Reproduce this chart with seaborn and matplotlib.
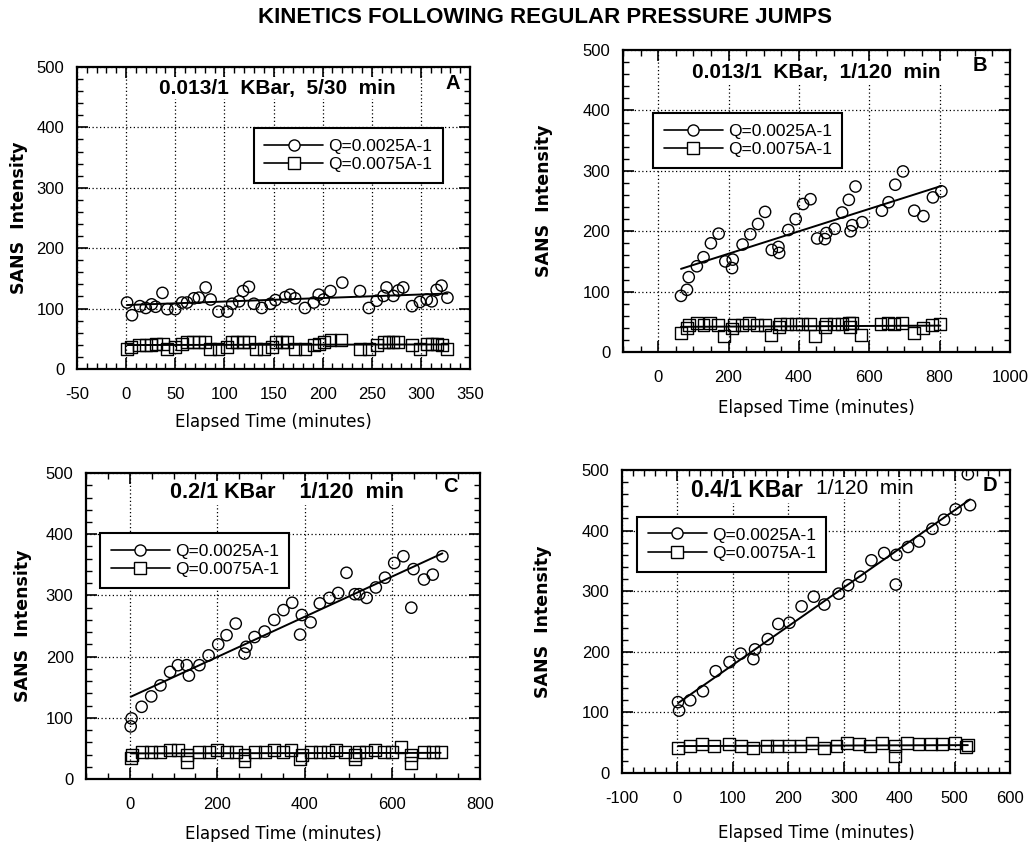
import numpy as np
import pandas as pd
import matplotlib
matplotlib.use("Agg")
import matplotlib.pyplot as plt
from matplotlib.lines import Line2D
from matplotlib.ticker import MultipleLocator
import seaborn as sns

# ---------------- data ----------------
a_circ_x = [1, 6, 14, 20, 26, 30, 37, 42, 50, 57, 62, 69, 74, 81, 86, 94, 103, 108, 115, 119, 125,
            130, 138, 147, 152, 162, 167, 172, 182, 191, 196, 201, 208, 220, 238, 247, 255, 262,
            265, 272, 277, 282, 291, 299, 306, 311, 316, 321, 327]
a_circ_y = [110, 89, 104, 101, 107, 103, 126, 99, 99, 110, 110, 117, 118, 135, 115, 95, 95, 108, 112,
            129, 136, 108, 101, 108, 114, 119, 123, 117, 101, 110, 123, 115, 129, 143, 129, 101, 113,
            121, 135, 121, 130, 135, 104, 111, 115, 112, 131, 138, 118]
a_sq_x = [1, 5, 13, 20, 25, 30, 38, 42, 50, 57, 62, 68, 74, 80, 85, 94, 103, 108, 113, 119, 125,
          132, 140, 148, 153, 159, 164, 172, 182, 191, 196, 201, 208, 219, 238, 247, 255, 262, 267,
          272, 277, 291, 299, 306, 311, 316, 321, 327]
a_sq_y = [33, 37, 40, 40, 40, 42, 42, 33, 36, 42, 45, 45, 45, 45, 33, 33, 36, 44, 45, 45, 45, 33,
          33, 36, 44, 45, 45, 33, 33, 39, 42, 45, 48, 48, 33, 33, 39, 44, 45, 45, 45, 40, 33, 42,
          42, 42, 39, 33]

b_circ_x = [65, 82, 87, 110, 129, 150, 172, 191, 212, 210, 240, 262, 284, 304, 323, 342, 344, 370,
            391, 412, 433, 452, 474, 478, 502, 523, 542, 561, 547, 552, 580, 636, 655, 674, 696,
            728, 754, 781, 805]
b_circ_y = [93, 103, 124, 142, 157, 180, 196, 150, 153, 139, 178, 195, 212, 232, 169, 174, 164, 202,
            220, 245, 253, 188, 187, 197, 204, 231, 252, 274, 200, 210, 215, 234, 248, 277, 299,
            234, 225, 256, 266]
b_sq_x = [65, 82, 87, 110, 129, 148, 169, 188, 210, 215, 238, 259, 282, 304, 320, 344, 347, 367,
          391, 410, 432, 447, 474, 478, 500, 523, 542, 545, 552, 577, 632, 653, 671, 693, 726,
          754, 778, 802]
b_sq_y = [32, 40, 45, 48, 45, 48, 45, 26, 39, 45, 45, 48, 45, 45, 28, 42, 47, 46, 46, 46, 46, 27,
          42, 46, 46, 46, 48, 42, 48, 28, 46, 48, 46, 48, 32, 40, 45, 47]

c_circ_x = [2, 4, 27, 49, 70, 92, 110, 130, 135, 159, 180, 202, 221, 242, 262, 266, 285, 308, 330,
            351, 371, 393, 389, 413, 434, 456, 476, 495, 514, 524, 541, 562, 583, 604, 625, 648,
            643, 672, 692, 714]
c_circ_y = [86, 99, 118, 135, 153, 175, 186, 186, 169, 186, 202, 220, 235, 254, 205, 216, 232, 241,
            260, 276, 288, 268, 236, 256, 287, 296, 304, 337, 302, 302, 296, 313, 329, 353, 364,
            343, 280, 326, 334, 364]
c_sq_x = [2, 4, 27, 49, 70, 92, 110, 131, 131, 159, 180, 199, 221, 242, 262, 262, 285, 308, 330,
          351, 368, 393, 389, 413, 434, 453, 472, 491, 514, 514, 524, 540, 560, 581, 599, 619,
          643, 643, 671, 692, 710]
c_sq_y = [35, 40, 44, 44, 44, 48, 48, 40, 28, 44, 44, 48, 44, 44, 40, 30, 44, 44, 48, 44, 48, 40,
          32, 44, 44, 44, 48, 44, 40, 32, 44, 44, 48, 44, 44, 52, 40, 26, 44, 44, 44]

d_circ_x = [1, 3, 23, 46, 69, 94, 114, 137, 140, 163, 182, 202, 224, 246, 265, 291, 308, 330, 350,
            373, 395, 394, 416, 436, 460, 481, 502, 528, 524]
d_circ_y = [117, 103, 120, 135, 168, 183, 197, 188, 204, 221, 246, 248, 275, 291, 278, 296, 310,
            324, 351, 363, 360, 311, 373, 382, 403, 418, 435, 442, 493]
d_sq_x = [1, 23, 45, 66, 93, 114, 137, 161, 180, 202, 222, 243, 264, 287, 306, 327, 348, 369,
          392, 392, 415, 435, 457, 478, 500, 520, 524]
d_sq_y = [41, 45, 48, 45, 48, 45, 41, 45, 45, 45, 45, 49, 41, 45, 49, 48, 45, 49, 44, 28, 50, 48,
          48, 48, 50, 43, 46]

series_labels = ["Q=0.0025A-1", "Q=0.0075A-1"]
suptitle = "KINETICS FOLLOWING REGULAR PRESSURE JUMPS"
panel_titles = ["0.013/1  KBar,  5/30  min", "0.013/1  KBar,  1/120  min",
                "0.2/1 KBar    1/120  min", None]
panel_letters = ["A", "B", "C", "D"]
x_ticks = [list(range(-50, 351, 50)), list(range(0, 1001, 200)),
           list(range(0, 801, 200)), list(range(-100, 601, 100))]
x_lims = [(-50, 350), (-100, 1000), (-100, 800), (-100, 600)]
x_minor = [10, 50, 50, 20]
y_ticks = [0, 100, 200, 300, 400, 500]

# ---------------- style ----------------
sns.set_theme(style="ticks")
plt.rcParams["font.family"] = ["Liberation Sans", "DejaVu Sans"]
plt.rcParams["axes.linewidth"] = 1.6
for k in ["text.color", "axes.labelcolor", "xtick.color", "ytick.color", "axes.edgecolor"]:
    plt.rcParams[k] = "black"

fig = plt.figure(figsize=(10.29, 8.42), dpi=100)
positions = [
    [0.0748, 0.5618, 0.3820, 0.3586],
    [0.6054, 0.5819, 0.3761, 0.3587],
    [0.0836, 0.0748, 0.3829, 0.3634],
    [0.6045, 0.0819, 0.3770, 0.3599],
]
legend_anchor = [(0.45, 0.798), (0.078, 0.791), (0.036, 0.804), (0.039, 0.845)]
title_pos = [(0.51, 0.93), (0.50, 0.924), (0.51, 0.935), None]
title_size = [15, 15, 15.5, None]
letter_pos = [(0.957, 0.947), (0.922, 0.95), (0.924, 0.955), (0.948, 0.95)]
ylabel_pad = [6, 21, 10, 21]
xlabel_pad = [8, 10, 9, 13]

panels = [
    (a_circ_x, a_circ_y, a_sq_x, a_sq_y),
    (b_circ_x, b_circ_y, b_sq_x, b_sq_y),
    (c_circ_x, c_circ_y, c_sq_x, c_sq_y),
    (d_circ_x, d_circ_y, d_sq_x, d_sq_y),
]

for i, (cx, cy, sx, sy) in enumerate(panels):
    ax = fig.add_axes(positions[i])
    circ = pd.DataFrame({"t": cx, "I": cy})
    sq = pd.DataFrame({"t": sx, "I": sy})

    sns.regplot(data=circ, x="t", y="I", scatter=False, ci=None, truncate=True,
                color="black", line_kws=dict(lw=1.4), ax=ax)
    sns.regplot(data=sq, x="t", y="I", scatter=False, ci=None, truncate=True,
                color="black", line_kws=dict(lw=1.4), ax=ax)
    sns.scatterplot(data=circ, x="t", y="I", marker="o", s=66, facecolors="none",
                    edgecolor="black", linewidth=1.0, ax=ax, zorder=3)
    sns.scatterplot(data=sq, x="t", y="I", marker="s", s=74, facecolors="none",
                    edgecolor="black", linewidth=1.0, ax=ax, zorder=3)

    ax.set_xlim(*x_lims[i])
    ax.set_ylim(0, 500)
    ax.set_xticks(x_ticks[i])
    ax.set_xticklabels([str(v) for v in x_ticks[i]])
    ax.set_yticks(y_ticks)
    ax.xaxis.set_minor_locator(MultipleLocator(x_minor[i]))
    ax.yaxis.set_minor_locator(MultipleLocator(20))
    ax.tick_params(which="both", direction="in", top=True, right=True, colors="black",
                   labelsize=12)
    ax.tick_params(axis="x", which="major", pad=13)
    ax.tick_params(axis="y", which="major", pad=9)
    ax.tick_params(which="major", length=8, width=1.2)
    ax.tick_params(which="minor", length=4, width=1.0)
    ax.grid(True, which="major", linestyle=(0, (1, 2)), color="black", linewidth=0.9)
    for sp in ax.spines.values():
        sp.set_color("black")
        sp.set_linewidth(1.6)

    ax.set_xlabel("Elapsed Time (minutes)", fontsize=12, family="DejaVu Sans",
                  labelpad=xlabel_pad[i])
    ax.set_ylabel("SANS  Intensity", fontsize=12.5, fontweight="bold", family="DejaVu Sans",
                  labelpad=ylabel_pad[i])

    handles = [
        Line2D([], [], color="black", lw=1.2, marker="o", mfc="white", mec="black", ms=8),
        Line2D([], [], color="black", lw=1.2, marker="s", mfc="white", mec="black", ms=8),
    ]
    leg = ax.legend(handles, series_labels, loc="upper left", bbox_to_anchor=legend_anchor[i],
                    borderaxespad=0, fancybox=False, framealpha=1, edgecolor="black",
                    fontsize=12.5, handlelength=3.4, handletextpad=0.3, labelspacing=0.2,
                    borderpad=0.6)
    leg.get_frame().set_linewidth(1.5)

    if title_pos[i] is not None:
        ax.text(*title_pos[i], panel_titles[i], transform=ax.transAxes, ha="center",
                va="center", fontsize=title_size[i], fontweight="bold",
                bbox=dict(facecolor="white", edgecolor="none", pad=1))
    else:
        ax.text(0.465, 0.932, "0.4/1 KBar", transform=ax.transAxes, ha="right", va="center",
                fontsize=16.5, fontweight="bold",
                bbox=dict(facecolor="white", edgecolor="none", pad=1))
        ax.text(0.50, 0.94, "1/120  min", transform=ax.transAxes, ha="left", va="center",
                fontsize=15, bbox=dict(facecolor="white", edgecolor="none", pad=1))
    ax.text(*letter_pos[i], panel_letters[i], transform=ax.transAxes, ha="center",
            va="center", fontsize=14.5, fontweight="bold")

fig.text(0.53, 0.979, suptitle, ha="center", va="center", fontsize=16, fontweight="bold",
         family=["Liberation Sans Narrow", "Liberation Sans", "DejaVu Sans"])

fig.savefig("out.png", dpi=100, facecolor="white")
